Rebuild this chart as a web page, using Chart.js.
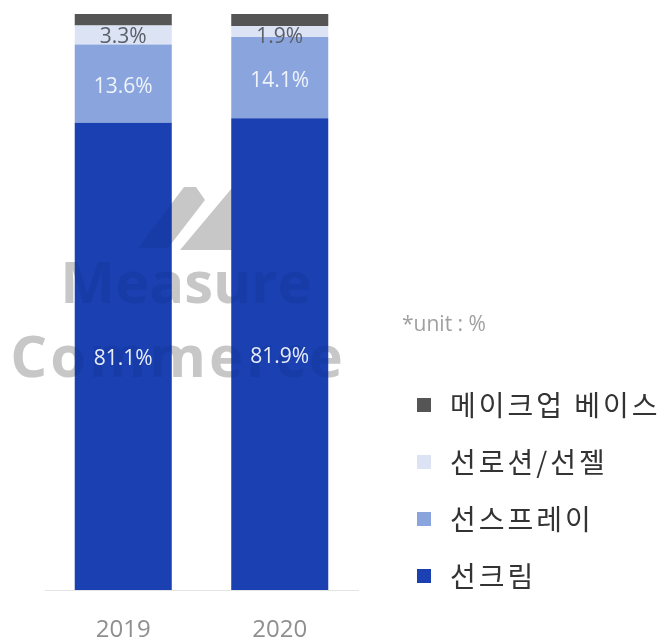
<!DOCTYPE html>
<html>
<head>
<meta charset="utf-8">
<script src="https://cdn.jsdelivr.net/npm/chart.js@4.4.1/dist/chart.umd.min.js"></script>
<style>
  html, body { margin: 0; padding: 0; background: #fff; }
  #wrap { width: 668px; height: 644px; position: relative; }
</style>
</head>
<body>
<div id="wrap"><canvas id="myChart"></canvas></div>
<script>
var years = ['2019', '2020'];
var seriesNames = ['선크림', '선스프레이', '선로션/선젤', '메이크업 베이스'];
var sunCream = [81.1, 81.9];
var sunSpray = [13.6, 14.1];
var sunLotion = [3.3, 1.9];
var makeupBase = [2.0, 2.1];
var colors = ['#1a40b2', '#8aa5dd', '#dce3f4', '#555555'];
var labelColors = ['#e6ecf8', '#eef2fb', '#5a5f6a', null];

function drawMark(ctx, fill) {
    ctx.save();
    ctx.fillStyle = fill;
    ctx.beginPath();
    ctx.moveTo(138, 248); ctx.lineTo(184, 187); ctx.lineTo(196, 187); ctx.lineTo(205, 200); ctx.lineTo(168, 248);
    ctx.closePath(); ctx.fill();
    ctx.beginPath();
    ctx.moveTo(180, 250); ctx.lineTo(232, 250); ctx.lineTo(232, 188);
    ctx.closePath(); ctx.fill();
    ctx.font = 'bold 58px "Open Sans"';
    ctx.textAlign = 'center';
    ctx.textBaseline = 'alphabetic';
    ctx.fillText('Measure', 186, 303);
    ctx.letterSpacing = '3px';
    ctx.fillText('Commerce', 178, 377);
    ctx.restore();
}

// watermark: gray behind the bars, faint shade on top of them
var watermark = {
    id: 'watermark',
    beforeDatasetsDraw: function(chart) {
        drawMark(chart.ctx, '#d4d4d4');
    },
    afterDatasetsDraw: function(chart) {
        drawMark(chart.ctx, 'rgba(0,0,0,0.06)');
    }
};

var valueLabels = {
    id: 'valueLabels',
    afterDatasetsDraw: function(chart) {
        var ctx = chart.ctx;
        ctx.save();
        ctx.font = '21px "Open Sans"';
        ctx.textAlign = 'center';
        ctx.textBaseline = 'middle';
        chart.data.datasets.forEach(function(ds, i) {
            if (!labelColors[i]) return;
            var meta = chart.getDatasetMeta(i);
            meta.data.forEach(function(bar, j) {
                ctx.fillStyle = labelColors[i];
                var y = (bar.y + bar.base) / 2 + 3;
                if (i == 2) y = bar.y + 11;
                ctx.fillText(ds.data[j].toFixed(1) + '%', bar.x, y);
            });
        });
        ctx.restore();
    }
};

var sideLegend = {
    id: 'sideLegend',
    afterDraw: function(chart) {
        var ctx = chart.ctx;
        ctx.save();
        ctx.fillStyle = '#a0a0a0';
        ctx.font = '21px "Open Sans"';
        ctx.textBaseline = 'middle';
        ctx.fillText('*unit : %', 402, 325);
        ctx.font = '28px "Noto Sans CJK KR"';
        ctx.letterSpacing = '3px';
        var sets = chart.data.datasets;
        for (var k = 0; k < sets.length; k++) {
            var ds = sets[sets.length - 1 - k];
            var y = 405 + k * 57;
            ctx.fillStyle = ds.backgroundColor;
            ctx.fillRect(417, y - 7, 14, 14);
            ctx.fillStyle = '#333333';
            ctx.fillText(ds.label, 450, y);
        }
        ctx.restore();
    }
};

var ctx = document.getElementById('myChart').getContext('2d');
var myChart = new Chart(ctx, {
    type: 'bar',
    data: {
        labels: years,
        datasets: [
            { label: seriesNames[0], data: sunCream, backgroundColor: colors[0] },
            { label: seriesNames[1], data: sunSpray, backgroundColor: colors[1] },
            { label: seriesNames[2], data: sunLotion, backgroundColor: colors[2] },
            { label: seriesNames[3], data: makeupBase, backgroundColor: colors[3] }
        ]
    },
    options: {
        responsive: true,
        maintainAspectRatio: false,
        animation: false,
        layout: { padding: { left: 45, right: 310, top: 14, bottom: 0 } },
        datasets: { bar: { barPercentage: 0.62, categoryPercentage: 1 } },
        plugins: { legend: { display: false }, tooltip: { enabled: false } },
        scales: {
            x: {
                stacked: true,
                grid: { display: false, drawTicks: false },
                border: { color: '#e4e4e4' },
                ticks: { color: '#8f8f8f', font: { size: 24, family: 'Open Sans' }, padding: 26 },
                afterFit: function(scale) { scale.height = 54; }
            },
            y: {
                stacked: true,
                display: false,
                min: 0,
                max: 100
            }
        }
    },
    plugins: [watermark, valueLabels, sideLegend]
});
</script>
</body>
</html>
